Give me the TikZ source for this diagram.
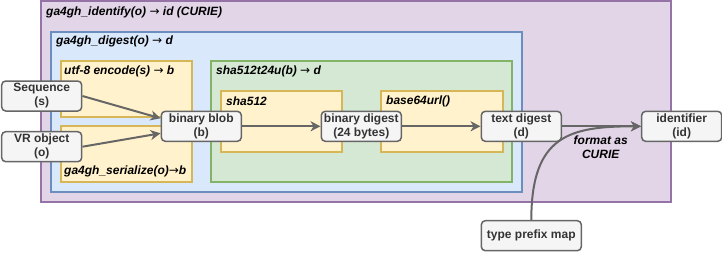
\documentclass[tikz,border=0pt]{standalone}
\usepackage{fontspec}
\setmainfont{Liberation Sans}
\newfontfamily\arrowfont{DejaVu Sans}
\newcommand\mapsarrow{{\arrowfont\mdseries\upshape →}}
\usetikzlibrary{arrows.meta}
\definecolor{identfill}{HTML}{E1D5E7}
\definecolor{identline}{HTML}{9673A6}
\definecolor{digestfill}{HTML}{DAE8FC}
\definecolor{digestline}{HTML}{6C8EBF}
\definecolor{hashfill}{HTML}{D5E8D4}
\definecolor{hashline}{HTML}{82B366}
\definecolor{stepfill}{HTML}{FFF2CC}
\definecolor{stepline}{HTML}{D6B656}
\definecolor{nodefill}{HTML}{F5F5F5}
\definecolor{nodeline}{HTML}{666666}
\definecolor{nodetext}{HTML}{333333}
\begin{document}
\begin{tikzpicture}[x=1pt,y=-1pt,
  box/.style={line width=1.5pt},
  boxtitle/.style={anchor=west,inner sep=0pt,font=\fontsize{12}{14}\selectfont\bfseries\itshape},
  datanode/.style={draw=nodeline,fill=nodefill,text=nodetext,line width=1.5pt,rounded corners=4pt,
    minimum width=80pt,minimum height=30pt,align=center,inner sep=1pt,font=\fontsize{12}{14}\selectfont\bfseries},
  flow/.style={draw=nodeline,line width=2pt,-{Stealth[length=10pt,width=10pt,inset=3pt]}}]
\useasboundingbox (0,0) rectangle (722,252);

% nested function boxes
\draw[box,draw=identline,fill=identfill] (41,1) rectangle (671,202);
\node[boxtitle] (identifytitle) at (46,12) {ga4gh\_identify(o) \mapsarrow{} id (CURIE)};
\draw[box,draw=digestline,fill=digestfill] (51,32) rectangle (522,192);
\node[boxtitle] (digesttitle) at (56,41.5) {ga4gh\_digest(o) \mapsarrow{} d};
\draw[box,draw=stepline,fill=stepfill] (61,61) rectangle (192,117);
\node[boxtitle] (encodetitle) at (64,71.5) {utf-8 encode(s) \mapsarrow{} b};
\draw[box,draw=stepline,fill=stepfill] (61,126) rectangle (192,182);
\node[boxtitle] (serializetitle) at (64,171.5) {ga4gh\_serialize(o)\mapsarrow{}b};
\draw[box,draw=hashline,fill=hashfill] (211,61) rectangle (512,182);
\node[boxtitle] (hashtitle) at (216,71.5) {sha512t24u(b) \mapsarrow{} d};
\draw[box,draw=stepline,fill=stepfill] (221,91) rectangle (342,152);
\node[boxtitle] (shatitle) at (226,101) {sha512};
\draw[box,draw=stepline,fill=stepfill] (381,91) rectangle (503,152);
\node[boxtitle] (base64title) at (386,101) {base64url()};

% data
\node[datanode] (seq) at (41.7,96) {Sequence\\(s)};
\node[datanode] (vrobj) at (41.7,146.7) {VR object\\(o)};
\node[datanode] (blob) at (201.3,126.3) {binary blob\\(b)};
\node[datanode] (bindigest) at (361.3,126.3) {binary digest\\(24 bytes)};
\node[datanode] (textdigest) at (521.3,126.3) {text digest\\(d)};
\node[datanode] (ident) at (681.7,126.3) {identifier\\(id)};
\node[datanode,minimum width=100pt] (prefixmap) at (531.3,235.7) {type prefix map};

\draw[flow] (seq.east) -- ([yshift=8pt]blob.west);
\draw[flow] (vrobj.east) -- ([yshift=-7pt]blob.west);
\draw[flow] (blob) -- (bindigest);
\draw[flow] (bindigest) -- (textdigest);
\draw[flow] (textdigest) -- (ident);
\draw[flow] (prefixmap.north) .. controls (531.3,135) and (570,126.3) .. (ident.west);
\node[boxtitle,anchor=center,align=center] (curielabel) at (600.7,147) {format as\\CURIE};
\end{tikzpicture}
\end{document}
